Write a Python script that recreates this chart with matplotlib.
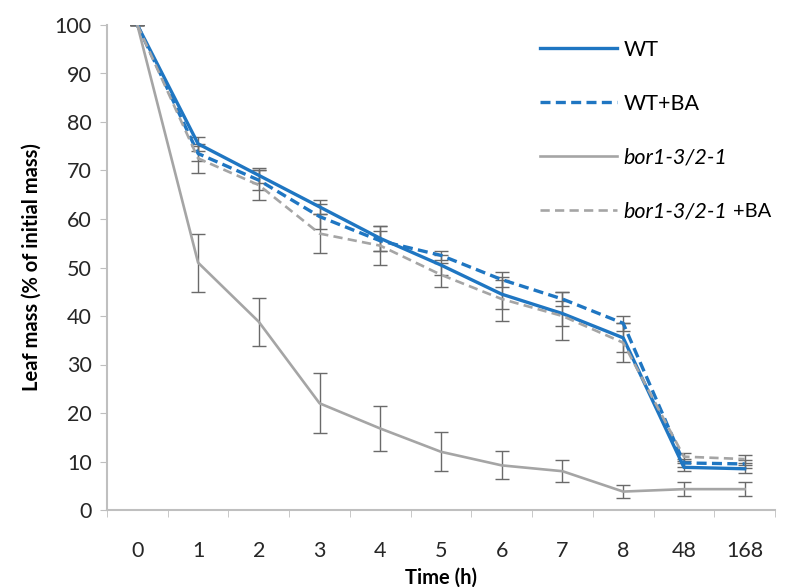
import matplotlib
matplotlib.use("Agg")
import matplotlib.pyplot as plt
import numpy as np

plt.rcParams['font.family'] = ['Lato', 'DejaVu Sans']

time_labels = ['0', '1', '2', '3', '4', '5', '6', '7', '8', '48', '168']
wt = [100, 75.5, 69, 62.5, 56, 50.5, 44.5, 40.5, 35.5, 8.8, 8.5]
wt_err = [0, 1.5, 1.5, 1.5, 2.5, 2, 3, 2.5, 3, 0.8, 0.8]
wt_ba = [100, 73.5, 68, 60.5, 55.5, 52.5, 47.5, 43.5, 38.5, 9.7, 9.5]
wt_ba_err = [0, 1.5, 2, 2.5, 2, 1, 1.5, 1.5, 1.5, 0.8, 0.8]
bor = [100, 51, 38.8, 22, 16.8, 12, 9.2, 8, 3.8, 4.3, 4.3]
bor_err = [0, 6, 5, 6.2, 4.6, 4, 2.9, 2.3, 1.3, 1.4, 1.4]
bor_ba = [100, 72.5, 67, 57, 54.5, 48.5, 43.5, 40, 34.5, 11, 10.5]
bor_ba_err = [0, 3, 3, 4, 4, 2.5, 4.5, 5, 4, 0.8, 0.8]

blue = '#1f76c2'
gray = '#a5a5a5'
errc = '#6a6a6a'

fig = plt.figure(figsize=(7.98, 5.87), dpi=100)
ax = fig.add_axes([107/798, 1 - 510/587, (775-107)/798, (510-25)/587])
x = np.arange(len(time_labels))

series = [
    (wt, wt_err, blue, '-', 2.4, 'WT'),
    (wt_ba, wt_ba_err, blue, (0, (3.0, 1.6)), 2.4, 'WT+BA'),
    (bor, bor_err, gray, '-', 1.9, 'bor1-3/2-1'),
    (bor_ba, bor_ba_err, gray, (0, (3.5, 2.0)), 1.9, 'bor1-3/2-1'),
]
handles = []
for vals, err, c, ls, lw, lab in series:
    ax.errorbar(x, vals, yerr=err, fmt='none', ecolor=errc, elinewidth=1.0,
                capsize=5, capthick=1.0, zorder=2)
for vals, err, c, ls, lw, lab in series:
    h, = ax.plot(x, vals, color=c, linestyle=ls, linewidth=lw, label=lab, zorder=3)
    handles.append(h)

ax.set_xlim(-0.5, len(time_labels) - 0.5)
ax.set_ylim(0, 100)
ax.set_yticks(np.arange(0, 101, 10))
ax.set_xticks(x)
ax.set_xticklabels(time_labels)
ax.set_xticks(np.arange(-0.5, len(time_labels), 1), minor=True)
ax.tick_params(axis='x', which='major', length=0, pad=22, labelsize=15.5, colors='#262626')
ax.tick_params(axis='x', which='minor', length=5, color='#bfbfbf', direction='out')
ax.tick_params(axis='y', length=5, color='#bfbfbf', direction='out', pad=6, labelsize=15.5,
               labelcolor='#262626')
for s in ['top', 'right']:
    ax.spines[s].set_visible(False)
for s in ['left', 'bottom']:
    ax.spines[s].set_color('#bfbfbf')
    ax.spines[s].set_linewidth(1.5)

ax.set_ylabel('Leaf mass (% of initial mass)', fontsize=14.5, fontweight='bold', labelpad=9)
ax.set_xlabel('Time (h)', fontsize=14.5, fontweight='bold', labelpad=5)

leg = ax.legend(handles=handles, loc='upper left', bbox_to_anchor=(529/798, 1 - 29/587),
                bbox_transform=fig.transFigure, frameon=False, fontsize=15.5,
                handlelength=3.6, handletextpad=0.3, labelspacing=1.58, borderpad=0)
texts = leg.get_texts()
texts[2].set_fontstyle('italic')
texts[3].set_fontstyle('italic')

fig.canvas.draw()
r = fig.canvas.get_renderer()
bb = texts[3].get_window_extent(r)
fig.text(bb.x1 + 5, (bb.y0 + bb.y1) / 2, '+BA', fontsize=14.5, va='center', ha='left',
         transform=None, color=texts[3].get_color())

fig.savefig('out.png', dpi=100)
